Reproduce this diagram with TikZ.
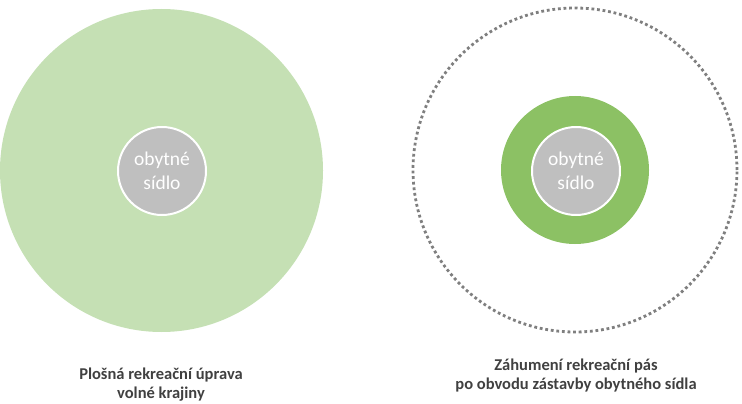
\documentclass[tikz,border=0pt]{standalone}
\usepackage{fontspec}
\setmainfont{Carlito}
\definecolor{lightgreen}{HTML}{C5E0B4}
\definecolor{ringgreen}{HTML}{8CC164}
\definecolor{cgrey}{HTML}{BFBFBF}
\definecolor{dotgrey}{HTML}{7F7F7F}
\definecolor{labelgrey}{HTML}{404040}
\tikzset{
  settlement/.style={circle, fill=cgrey, draw=white, line width=2pt, minimum size=88pt, inner sep=0pt,
    text=white, align=center, font=\fontsize{19.5}{23.5}\selectfont},
  caption/.style={align=center, text=labelgrey, font=\fontsize{16.5}{19}\selectfont\bfseries, inner sep=0pt}
}
\begin{document}
\begin{tikzpicture}[x=1pt,y=-1pt]
\useasboundingbox (0,0) rectangle (742,404);
% left: area recreation
\node[circle, fill=lightgreen, minimum size=323pt, inner sep=0pt] (area) at (161.5,170.5) {};
\node[settlement] (s1) at (162,171) {obytné\\sídlo};
\node[caption, anchor=base] (cap1) at (161,398) {Plošná rekreační úprava\\volné krajiny};
% right: belt around settlement
\node[circle, draw=dotgrey, line width=2.8pt, dash pattern=on 2.8pt off 2.8pt, minimum size=324pt, inner sep=0pt] (outer) at (575,170) {};
\node[circle, fill=ringgreen, minimum size=148pt, inner sep=0pt] (belt) at (575,170) {};
\node[settlement] (s2) at (576,171) {obytné\\sídlo};
\node[caption, anchor=base] (cap2) at (576,389) {Záhumení rekreační pás\\po obvodu zástavby obytného sídla};
\end{tikzpicture}
\end{document}
